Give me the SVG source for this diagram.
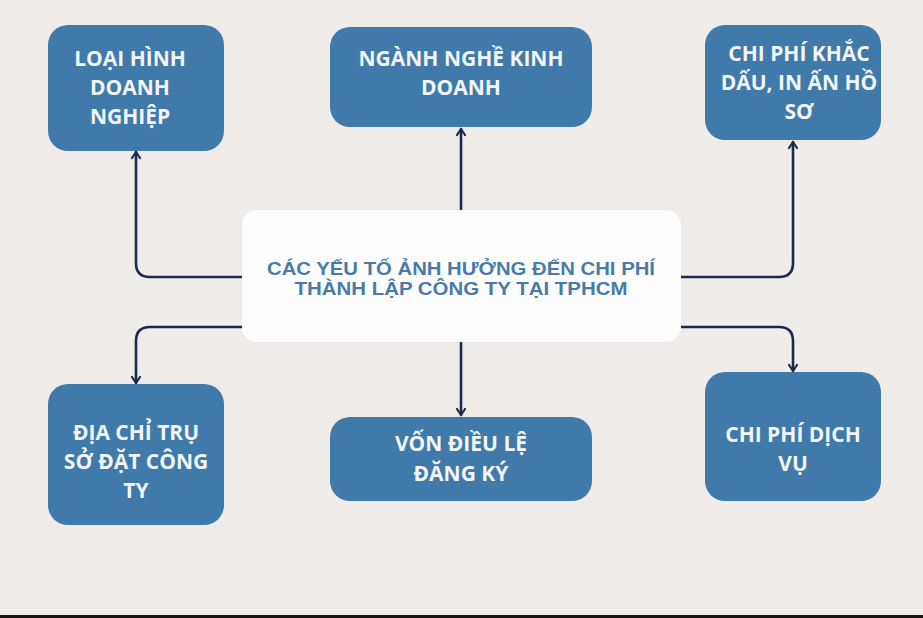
<svg xmlns="http://www.w3.org/2000/svg" width="923" height="618" viewBox="0 0 923 618">
<defs>
<style>
.node{fill:#3f7aab}
.nt{font-family:"Open Sans","Liberation Sans",sans-serif;font-weight:700;font-size:21px;fill:#f2f6fa;text-anchor:middle}
.ct{font-family:"Liberation Sans","Open Sans",sans-serif;font-weight:700;font-size:18px;fill:#4a7ba8;text-anchor:middle}
.edge{fill:none;stroke:#1b2b4b;stroke-width:2.6;stroke-linecap:round}
</style>
<marker id="arr" viewBox="0 0 10 10" refX="8" refY="5" markerWidth="10" markerHeight="10" markerUnits="userSpaceOnUse" orient="auto">
<polyline points="2,1 8,5 2,9" fill="none" stroke="#1b2b4b" stroke-width="2.2" stroke-linecap="round" stroke-linejoin="round"/>
</marker>
</defs>
<rect width="923" height="618" fill="#f0ecea"/>
<rect x="0" y="615" width="923" height="3" fill="#161616"/>
<g id="connectors">
<path class="edge" marker-end="url(#arr)" d="M242,277 H150 Q136,277 136,263 V152"/>
<path class="edge" marker-end="url(#arr)" d="M461,210 V129"/>
<path class="edge" marker-end="url(#arr)" d="M681,277 H779 Q793,277 793,263 V142"/>
<path class="edge" marker-end="url(#arr)" d="M242,327 H150 Q136,327 136,341 V383"/>
<path class="edge" marker-end="url(#arr)" d="M461,342 V415"/>
<path class="edge" marker-end="url(#arr)" d="M681,327 H779 Q793,327 793,341 V371"/>
</g>
<g id="center">
<rect x="242" y="210" width="439" height="132" rx="15" fill="#fdfdfd"/>
<text class="ct" x="461" y="275" textLength="388" lengthAdjust="spacingAndGlyphs">CÁC YẾU TỐ ẢNH HƯỞNG ĐẾN CHI PHÍ</text>
<text class="ct" x="461" y="295" textLength="333" lengthAdjust="spacingAndGlyphs">THÀNH LẬP CÔNG TY TẠI TPHCM</text>
</g>
<g id="n1">
<rect class="node" x="48" y="25" width="176" height="126" rx="20"/>
<text class="nt" x="130" y="66">LOẠI HÌNH</text>
<text class="nt" x="130" y="95">DOANH</text>
<text class="nt" x="130" y="124">NGHIỆP</text>
</g>
<g id="n2">
<rect class="node" x="330" y="27" width="262" height="100" rx="20"/>
<text class="nt" x="461" y="66">NGÀNH NGHỀ KINH</text>
<text class="nt" x="461" y="95">DOANH</text>
</g>
<g id="n3">
<rect class="node" x="705" y="25" width="176" height="115" rx="20"/>
<text class="nt" x="799" y="61">CHI PHÍ KHẮC</text>
<text class="nt" x="799" y="90">DẤU, IN ẤN HỒ</text>
<text class="nt" x="799" y="119">SƠ</text>
</g>
<g id="n4">
<rect class="node" x="48" y="384" width="176" height="141" rx="20"/>
<text class="nt" x="136" y="440">ĐỊA CHỈ TRỤ</text>
<text class="nt" x="136" y="469">SỞ ĐẶT CÔNG</text>
<text class="nt" x="136" y="498">TY</text>
</g>
<g id="n5">
<rect class="node" x="330" y="417" width="262" height="84" rx="20"/>
<text class="nt" x="461" y="451">VỐN ĐIỀU LỆ</text>
<text class="nt" x="461" y="481">ĐĂNG KÝ</text>
</g>
<g id="n6">
<rect class="node" x="705" y="372" width="176" height="129" rx="20"/>
<text class="nt" x="793" y="442">CHI PHÍ DỊCH</text>
<text class="nt" x="793" y="471">VỤ</text>
</g>
</svg>
